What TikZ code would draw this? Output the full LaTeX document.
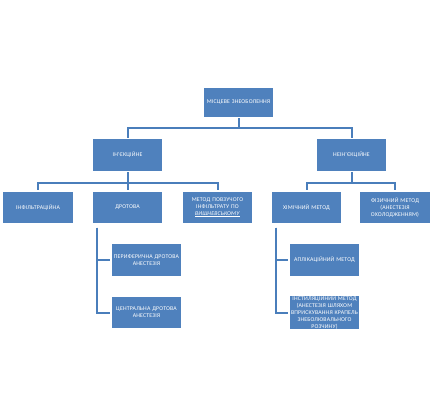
\documentclass[tikz,border=0pt]{standalone}
\usepackage{fontspec}
\setmainfont{Carlito}[LetterSpace=3]
\usepackage{tikz}
\usepackage{xcolor}
\usetikzlibrary{positioning}

\definecolor{boxblue}{HTML}{4F81BD}
\definecolor{lineblue}{HTML}{4A7EBB}

\begin{document}
\begin{tikzpicture}[x=1pt, y=-1pt, node distance=52.5pt, font=\fontsize{5.8}{6.8}\selectfont]
    \tikzset{
      process/.style = {rectangle, minimum width=71pt, minimum height=33pt, text width=69pt, inner sep=1pt, align=center, draw=white, line width=1.2pt, fill=boxblue, text=white},
      conn/.style = {draw=lineblue, line width=2pt}
    }
    \useasboundingbox (0,0) rectangle (434,415);

    \node (top) [process, minimum height=30pt] at (238.5,102.5) {МІСЦЕВЕ ЗНЕОБОЛЕННЯ};
    \node (inj) [process, below of=top, xshift=-111pt] {ІН'ЄКЦІЙНЕ};
    \node (noninj) [process, below of=top, xshift=113pt] {НЕІН'ЄКЦІЙНЕ};
    \node (drot) [process, below of=inj] {ДРОТОВА};
    \node (infil) [process, left of=drot, xshift=-37pt] {ІНФІЛЬТРАЦІЙНА};
    \node (metod) [process, right of=drot, xshift=37.5pt] {МЕТОД ПОВЗУЧОГО\\ ІНФІЛЬТРАТУ ПО\\ \underline{\textit{ВИШНЕВСЬКОМУ}}};
    \node (chem) [process, below of=noninj, xshift=-45pt] {ХІМІЧНИЙ МЕТОД};
    \node (phys) [process, below of=noninj, xshift=43.5pt] {ФІЗИЧНИЙ МЕТОД\\ (АНЕСТЕЗІЯ\\ ОХОЛОДЖЕННЯМ)};
    \node (perif) [process, below of=drot, xshift=19pt] {ПЕРИФЕРИЧНА ДРОТОВА\\ АНЕСТЕЗІЯ};
    \node (centr) [process, below of=perif] {ЦЕНТРАЛЬНА ДРОТОВА\\ АНЕСТЕЗІЯ};
    \node (aplik) [process, below of=chem, xshift=18pt] {АПЛІКАЦІЙНИЙ МЕТОД};
    \node (instyl) [process, below of=aplik, minimum height=35pt] {ІНСТИЛЯЦІЙНИЙ МЕТОД\\ (АНЕСТЕЗІЯ ШЛЯХОМ\\ ВПРИСКУВАННЯ КРАПЕЛЬ\\ ЗНЕБОЛЮВАЛЬНОГО\\ РОЗЧИНУ)};

    \draw [conn] (top.south) -- ++(0,10) -| (inj.north);
    \draw [conn] (top.south) -- ++(0,10) -| (noninj.north);
    \draw [conn] (inj.south) -- ++(0,11) -| (infil.north);
    \draw [conn] (inj.south) -- ++(0,11) -| (drot.north);
    \draw [conn] (inj.south) -- ++(0,11) -| (metod.north);
    \draw [conn] (noninj.south) -- ++(0,11) -| (chem.north);
    \draw [conn] (noninj.south) -- ++(0,11) -| (phys.north);
    \draw [conn] ([xshift=6pt, yshift=-3pt]drot.south west) |- (perif.west);
    \draw [conn] ([xshift=6pt, yshift=-3pt]drot.south west) |- (centr.west);
    \draw [conn] ([xshift=6pt, yshift=-3pt]chem.south west) |- (aplik.west);
    \draw [conn] ([xshift=6pt, yshift=-3pt]chem.south west) |- (instyl.west);
\end{tikzpicture}
\end{document}
